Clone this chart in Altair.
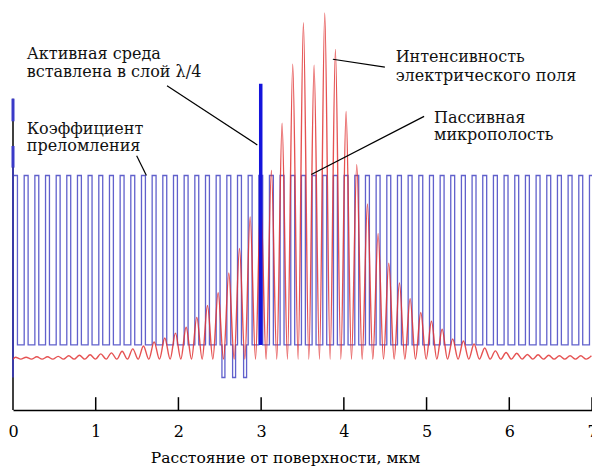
import altair as alt
import pandas as pd

# ---------------- data ----------------
x_tick_values = [0, 1, 2, 3, 4, 5, 6, 7]
inner_tick_values = [1, 2, 3, 4, 5, 6, 7]

# centres of the high-index layers (µm)
high_centers = [0.030, 0.159, 0.288, 0.417, 0.546, 0.674, 0.803, 0.932, 1.061, 1.190,
                1.319, 1.448, 1.577, 1.706, 1.835, 1.964, 2.093, 2.222, 2.351, 2.480,
                2.609, 2.738, 2.867, 2.995, 3.124, 3.253, 3.382, 3.511, 3.640, 3.769,
                3.898, 4.027, 4.156, 4.285, 4.414, 4.543, 4.672, 4.801, 4.930, 5.059,
                5.188, 5.316, 5.445, 5.574, 5.703, 5.832, 5.961, 6.090, 6.219, 6.348,
                6.477, 6.606, 6.735, 6.864, 6.993]
high_halfwidth = 0.0237
index_high = 59.5
index_low = 16.5
index_dip = 8.25
dip_centers = [2.544, 2.673, 2.806]
dip_halfwidth = 0.018
active_x = 2.995
active_top = 82.75
edge_segments = [(79.0, 73.25, 3.0), (67.0, 61.5, 3.0), (61.5, 8.25, 1.5)]
axis_top = 79.0

# field intensity: peaks (at high_centers) and troughs
field_peaks = [13.4, 13.4, 13.5, 13.5, 13.6, 13.75, 13.9, 14.0, 14.25, 14.5,
               14.9, 15.5, 16.25, 17.25, 18.25, 19.5, 21.0, 23.5, 26.5, 29.75,
               34.75, 41.0, 49.0, 53.25, 60.75, 72.75, 87.75, 98.25, 87.5, 100.75,
               91.5, 75.75, 62.25, 52.25, 44.75, 37.25, 32.25, 28.25, 24.75, 22.5,
               20.5, 18.0, 17.5, 16.75, 15.75, 15.0, 14.6, 14.4, 14.1, 14.0,
               13.9, 13.75, 13.75, 13.75, 13.75]
trough_x = [0.000, 0.094, 0.223, 0.352, 0.481, 0.610, 0.739, 0.868, 0.997, 1.126,
            1.255, 1.384, 1.513, 1.642, 1.771, 1.900, 2.029, 2.158, 2.287, 2.416,
            2.545, 2.674, 2.803, 2.932, 3.060, 3.189, 3.318, 3.447, 3.576, 3.705,
            3.834, 3.963, 4.092, 4.221, 4.350, 4.479, 4.608, 4.737, 4.866, 4.995,
            5.124, 5.253, 5.381, 5.510, 5.639, 5.768, 5.897, 6.026, 6.155, 6.284,
            6.413, 6.542, 6.671, 6.800, 6.929]
field_trough = 12.9

label_text = ["Активная среда", "вставлена в слой λ/4", "Коэффициент", "преломления",
              "Интенсивность", "электрического поля", "Пассивная", "микрополость"]
label_x = [0.166, 0.166, 0.166, 0.166, 4.626, 4.626, 5.089, 5.089]
label_y = [89.0, 84.4, 70.0, 65.7, 88.2, 83.6, 72.9, 68.6]

leader_x = [1.495, 1.862, 4.496, 4.970]
leader_y = [64.5, 82.25, 87.0, 74.5]
leader_x2 = [1.613, 2.954, 3.867, 3.606]
leader_y2 = [59.5, 67.25, 89.0, 59.75]

# ---------------- tables ----------------
blue_pts = []
for k, c in enumerate(high_centers):
    if k > 0:
        blue_pts.append((c - high_halfwidth, index_low))
    blue_pts.append((c - high_halfwidth, index_high))
    blue_pts.append((c + high_halfwidth, index_high))
    blue_pts.append((c + high_halfwidth, index_low))
    for d in dip_centers:
        if c < d < c + 0.129:
            blue_pts += [(d - dip_halfwidth, index_low), (d - dip_halfwidth, index_dip),
                         (d + dip_halfwidth, index_dip), (d + dip_halfwidth, index_low)]
blue_df = pd.DataFrame({"x": [p[0] for p in blue_pts], "y": [p[1] for p in blue_pts],
                        "i": list(range(len(blue_pts)))})

red_x, red_y = [], []
for k in range(len(high_centers)):
    red_x.append(trough_x[k]); red_y.append(field_trough)
    red_x.append(high_centers[k]); red_y.append(field_peaks[k])
red_df = pd.DataFrame({"x": red_x, "y": red_y, "i": list(range(len(red_x)))})

edge_df = pd.DataFrame({"x": [0.0] * 3, "y": [s[0] for s in edge_segments],
                        "y2": [s[1] for s in edge_segments], "w": [s[2] for s in edge_segments]})
active_df = pd.DataFrame({"x": [active_x], "y": [index_low], "y2": [active_top]})
yaxis_df = pd.DataFrame({"x": [0.0], "y": [0.0], "y2": [axis_top]})
ticks_df = pd.DataFrame({"x": inner_tick_values, "y": [0.0] * 7, "y2": [3.25] * 7})
labels_df = pd.DataFrame({"x": label_x, "y": label_y, "t": label_text})
leader_df = pd.DataFrame({"x": leader_x, "y": leader_y, "x2": leader_x2, "y2": leader_y2})

# ---------------- chart ----------------
FONT = "DejaVu Serif"
xs = alt.Scale(domain=[0, 7], nice=False, zero=False)
ys = alt.Scale(domain=[0, 102], nice=False, zero=False)
xaxis = alt.Axis(values=x_tick_values, format="d", labelFont=FONT, labelFontSize=16,
                 labelColor="black", labelFlush=False, ticks=False, grid=False,
                 domainColor="black", domainWidth=1.5, labelPadding=13,
                 title="Расстояние от поверхности, мкм", titleFont=FONT, titleFontSize=15.5,
                 titleFontWeight="normal", titleColor="black", titlePadding=11,
                 titleX=272)


def X(f):
    return alt.X(f, type="quantitative", scale=xs, axis=xaxis)


def Y(f):
    return alt.Y(f, type="quantitative", scale=ys, axis=None)


yaxis = alt.Chart(yaxis_df).mark_rule(color="black", strokeWidth=1.5).encode(
    x=X("x"), y=Y("y"), y2="y2")
blue = alt.Chart(blue_df).mark_line(color="#5050c6", strokeWidth=1.3, opacity=0.9,
                                    clip=True).encode(
    x=X("x"), y=Y("y"), order="i:Q")
edge = alt.Chart(edge_df).mark_rule(color="#3a3ac8").encode(
    x=X("x"), y=Y("y"), y2="y2", strokeWidth=alt.StrokeWidth("w:Q", scale=None))
active = alt.Chart(active_df).mark_rule(color="#1414dc", strokeWidth=3.5).encode(
    x=X("x"), y=Y("y"), y2="y2")
red = alt.Chart(red_df).mark_line(color="#e03434", strokeWidth=1.4, opacity=0.85,
                                  interpolate="monotone", clip=True).encode(
    x=X("x"), y=Y("y"), order="i:Q")
ticks = alt.Chart(ticks_df).mark_rule(color="black", strokeWidth=1.5).encode(
    x=X("x"), y=Y("y"), y2="y2")
leaders = alt.Chart(leader_df).mark_rule(color="black", strokeWidth=1.2).encode(
    x=X("x"), y=Y("y"), x2="x2", y2="y2")
texts = alt.Chart(labels_df).mark_text(font=FONT, fontSize=16, color="#111111",
                                       align="left", baseline="alphabetic").encode(
    x=X("x"), y=Y("y"), text="t:N")

chart = alt.layer(yaxis, blue, edge, red, active, ticks, leaders, texts).properties(
    width=579, height=402,
    autosize=alt.AutoSizeParams(type="none"),
    padding={"left": 5, "top": 0, "right": 0, "bottom": 58},
    background="white",
).configure_view(stroke=None)

chart.save("out.html", embed_options={"renderer": "svg", "actions": False})
